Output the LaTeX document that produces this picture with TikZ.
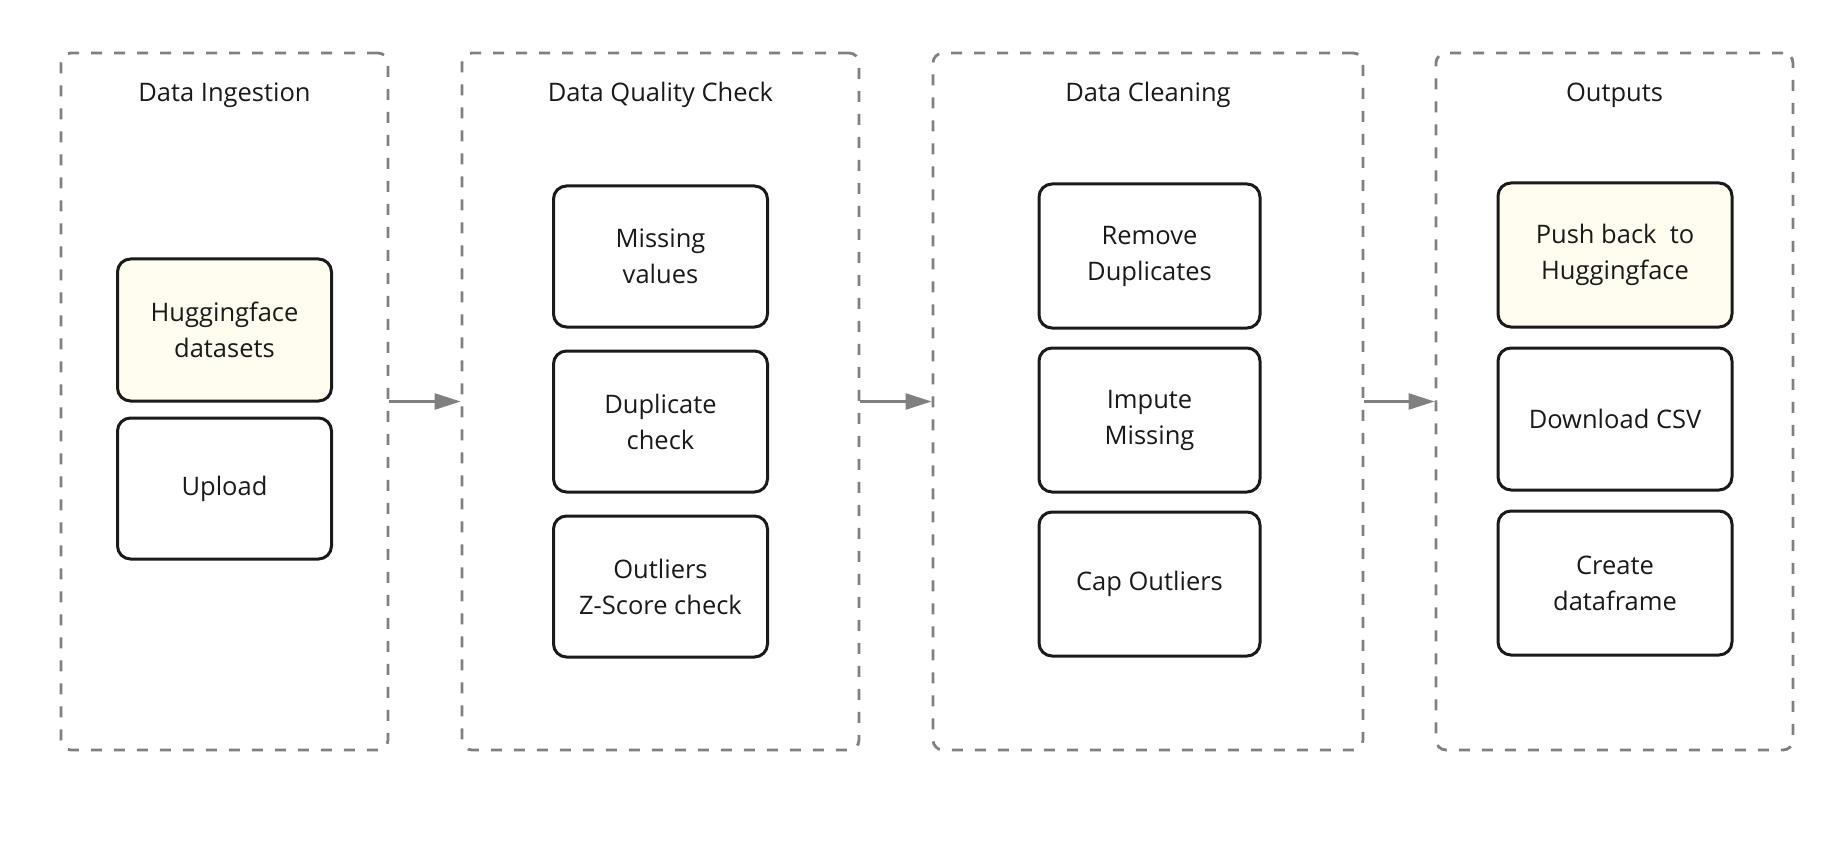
\documentclass[tikz,border=0pt]{standalone}
\usepackage{fontspec}
\setmainfont{Open Sans}
\usetikzlibrary{positioning,arrows.meta}
\definecolor{dashgray}{HTML}{808080}
\definecolor{hfyellow}{HTML}{FEFDEF}
\definecolor{boxline}{HTML}{1A1A1A}
\tikzset{basic/.style={font=\fontsize{25.5}{36}\selectfont,align=center,inner sep=0pt,text=boxline}}
\tikzset{stage/.style={draw=dashgray,line width=2.8pt,dash pattern=on 11pt off 12pt,rounded corners=10pt,minimum height=697pt}}
\tikzset{item/.style={basic,draw=boxline,line width=3pt,rounded corners=13pt,fill=white}}
\tikzset{hfitem/.style={item,fill=hfyellow}}
\tikzset{title/.style={basic}}
\tikzset{flow/.style={draw=dashgray,line width=2.5pt,-{Triangle[length=26pt,width=16pt]}}}

\begin{document}
\begin{tikzpicture}[x=1pt,y=-1pt]
    \useasboundingbox (0,0) rectangle (1848,845);
    % stages
    \node[stage,minimum width=327pt] (ingest) at (224.5,401.5) {};
    \node[stage,minimum width=397pt] (quality) at (660.5,401.5) {};
    \node[stage,minimum width=430pt] (clean) at (1148,401.5) {};
    \node[stage,minimum width=357pt] (outputs) at (1614.5,401.5) {};
    \node[title] (tingest) at (224.5,95) {Data Ingestion};
    \node[title] (tquality) at (660.5,95) {Data Quality Check};
    \node[title] (tclean) at (1148,95) {Data Cleaning};
    \node[title] (toutputs) at (1614.5,95) {Outputs};
    % ingestion
    \node[hfitem,minimum width=214pt,minimum height=142pt] (hf) at (224.5,330) {Huggingface\\datasets};
    \node[item,minimum width=214pt,minimum height=141pt,below=14pt of hf] (upload) {Upload};
    % quality check
    \node[item,minimum width=214pt,minimum height=141pt] (missing) at (660.5,256.5) {Missing\\values};
    \node[item,minimum width=214pt,minimum height=141pt,below=21pt of missing] (dupcheck) {Duplicate\\check};
    \node[item,minimum width=214pt,minimum height=141pt,below=21pt of dupcheck] (zscore) {Outliers\\Z-Score check};
    % cleaning
    \node[item,minimum width=221pt,minimum height=144pt] (remove) at (1149.5,256) {Remove\\Duplicates};
    \node[item,minimum width=221pt,minimum height=144pt,below=17pt of remove] (impute) {Impute\\Missing};
    \node[item,minimum width=221pt,minimum height=144pt,below=17pt of impute] (cap) {Cap Outliers};
    % outputs
    \node[hfitem,minimum width=234pt,minimum height=144pt] (push) at (1615,255) {Push back\ \ to\\Huggingface};
    \node[item,minimum width=234pt,minimum height=142pt,below=18pt of push] (csv) {Download CSV};
    \node[item,minimum width=234pt,minimum height=144pt,below=18pt of csv] (frame) {Create\\dataframe};
    % flow
    \path[flow] (ingest) -- (quality);
    \path[flow] (quality) -- (clean);
    \path[flow] (clean) -- (outputs);
\end{tikzpicture}
\end{document}
